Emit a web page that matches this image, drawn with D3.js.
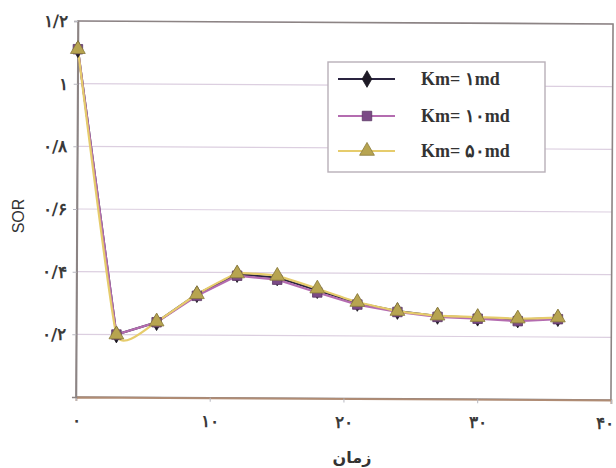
<!DOCTYPE html>
<html>
<head>
<meta charset="utf-8">
<script src="https://cdn.jsdelivr.net/npm/d3@7"></script>
<style>
  html, body { margin: 0; padding: 0; background: #fff; }
  svg { display: block; }
</style>
</head>
<body>
<svg id="chart" width="616" height="468"></svg>
<script>
// Sampling times and SOR values for each matrix permeability
const times = [0, 3, 6, 9, 12, 15, 18, 21, 24, 27, 30, 33, 36];
const sorKm1 = [1.11, 0.20, 0.24, 0.33, 0.395, 0.385, 0.345, 0.305, 0.28, 0.265, 0.26, 0.255, 0.26];
const sorKm10 = [1.11, 0.20, 0.24, 0.325, 0.39, 0.378, 0.338, 0.30, 0.277, 0.262, 0.257, 0.25, 0.257];
const sorKm50 = [1.11, 0.20, 0.242, 0.33, 0.397, 0.39, 0.35, 0.308, 0.28, 0.266, 0.262, 0.258, 0.262];

const seriesNames = ["Km= ۱md", "Km= ۱۰md", "Km= ۵۰md"];

const xTicks = [0, 10, 20, 30, 40];
const xTickLabels = ["۰", "۱۰", "۲۰", "۳۰", "۴۰"];
const yTicks = [0.2, 0.4, 0.6, 0.8, 1.0, 1.2];
const yTickLabels = ["۰/۲", "۰/۴", "۰/۶", "۰/۸", "۱", "۱/۲"];

const xTitle = "زمان";
const yTitle = "SOR";

const svg = d3.select("#chart");
const plot = { left: 77, right: 612, top: 22.5, bottom: 398.5 };

const x = d3.scaleLinear().domain([0, 40]).range([plot.left, plot.right]);
const y = d3.scaleLinear().domain([0, 1.2]).range([plot.bottom, plot.top]);

const g = svg.append("g").attr("transform", "rotate(0.32, 345, 210)");

// horizontal gridlines
g.append("g")
  .selectAll("line")
  .data(yTicks)
  .join("line")
  .attr("x1", plot.left).attr("x2", plot.right)
  .attr("y1", d => y(d)).attr("y2", d => y(d))
  .attr("stroke", "#dccfe0")
  .attr("stroke-width", 1.2);

// plot frame
g.append("rect")
  .attr("x", plot.left).attr("y", plot.top)
  .attr("width", plot.right - plot.left).attr("height", plot.bottom - plot.top)
  .attr("fill", "none")
  .attr("stroke", "#8c8484")
  .attr("stroke-width", 1.6);

// axes
const xAxis = d3.axisBottom(x).tickValues(xTicks)
  .tickFormat((d, i) => xTickLabels[i]).tickSize(4).tickPadding(13);
const yAxis = d3.axisLeft(y).tickValues(yTicks)
  .tickFormat((d, i) => yTickLabels[i]).tickSize(4).tickPadding(6);

const gx = g.append("g").attr("transform", `translate(0,${plot.bottom})`).call(xAxis);
const gy = g.append("g").attr("transform", `translate(${plot.left},0)`).call(yAxis);

gx.select(".domain").attr("stroke", "#b08c74").attr("stroke-width", 1.8);
gy.select(".domain").attr("stroke", "#8c8484").attr("stroke-width", 1.6);
[gx, gy].forEach(a => {
  a.selectAll(".tick line").attr("stroke", "#b8b8c0");
  a.selectAll(".tick text")
    .attr("font-family", "'DejaVu Serif', 'Liberation Serif', serif")
    .attr("font-size", 17)
    .attr("font-weight", "bold")
    .attr("fill", "#3a3a3a")
    .attr("direction", "ltr");
});
// keep the last x label inside the page edge
gx.selectAll(".tick text").filter(d => d === 40)
  .attr("text-anchor", "end").attr("x", 3);

// axis titles
svg.append("text")
  .attr("transform", "translate(24,216) rotate(-90)")
  .attr("text-anchor", "middle")
  .attr("font-family", "'Liberation Sans', Arial, sans-serif")
  .attr("font-size", 16)
  .attr("fill", "#333")
  .text(yTitle);

svg.append("text")
  .attr("x", 352).attr("y", 463)
  .attr("text-anchor", "middle")
  .attr("font-family", "'DejaVu Sans', sans-serif")
  .attr("font-size", 16)
  .attr("font-weight", "bold")
  .attr("fill", "#333")
  .text(xTitle);

// series styling
const series = [
  { name: seriesNames[0], values: sorKm1, line: "#2a2440", marker: "diamond", fill: "#1e1a26", curve: d3.curveLinear },
  { name: seriesNames[1], values: sorKm10, line: "#b46cb0", marker: "square", fill: "#7b4a86", curve: d3.curveLinear },
  { name: seriesNames[2], values: sorKm50, line: "#e6cc6c", marker: "triangle", fill: "#b7a450", curve: d3.curveCardinal.tension(0.6) }
];

const symbolType = { diamond: d3.symbolDiamond, square: d3.symbolSquare, triangle: d3.symbolTriangle };
const symbolSize = { diamond: 80, square: 90, triangle: 95 };

series.forEach(s => {
  const line = d3.line()
    .x((d, i) => x(times[i]))
    .y(d => y(d))
    .curve(s.curve);
  g.append("path")
    .datum(s.values)
    .attr("d", line)
    .attr("fill", "none")
    .attr("stroke", s.line)
    .attr("stroke-width", 2.2);
});

series.forEach(s => {
  g.append("g")
    .selectAll("path")
    .data(s.values)
    .join("path")
    .attr("transform", (d, i) => `translate(${x(times[i])},${y(d)})`)
    .attr("d", d3.symbol().type(symbolType[s.marker]).size(symbolSize[s.marker]))
    .attr("fill", s.fill)
    .attr("stroke", d3.color(s.fill).darker(0.8))
    .attr("stroke-width", 0.8);
});

// legend
const legend = svg.append("g").attr("transform", "translate(328,62)");
legend.append("rect")
  .attr("width", 217).attr("height", 110)
  .attr("fill", "#fff")
  .attr("stroke", "#b8b0b8")
  .attr("stroke-width", 1.4);

const rowY = [17, 54, 89];
series.forEach((s, i) => {
  const row = legend.append("g").attr("transform", `translate(0,${rowY[i]})`);
  row.append("line")
    .attr("x1", 10).attr("x2", 67)
    .attr("stroke", s.line).attr("stroke-width", 2.2);
  row.append("path")
    .attr("transform", "translate(39,0)")
    .attr("d", d3.symbol().type(symbolType[s.marker]).size(symbolSize[s.marker]))
    .attr("fill", s.fill)
    .attr("stroke", d3.color(s.fill).darker(0.8))
    .attr("stroke-width", 0.8);
  row.append("text")
    .attr("x", 93).attr("y", 6)
    .attr("font-family", "'Liberation Serif', 'DejaVu Serif', serif")
    .attr("font-size", 18)
    .attr("font-weight", "bold")
    .attr("fill", "#333")
    .attr("direction", "ltr")
    .text(s.name);
});
</script>
</body>
</html>
